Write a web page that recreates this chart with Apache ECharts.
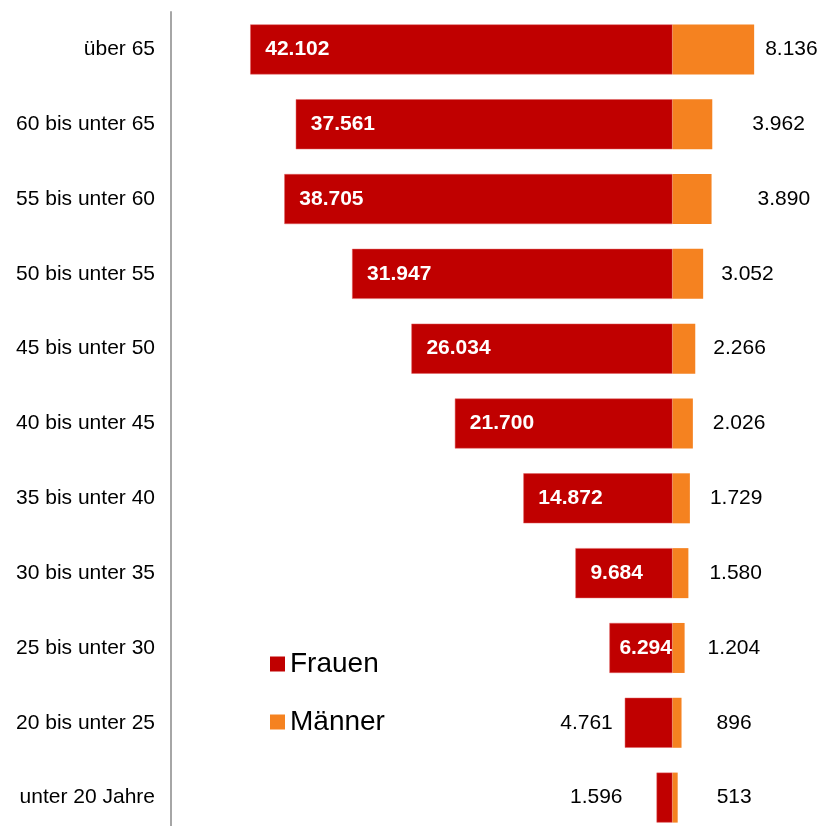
<!DOCTYPE html>
<html>
<head>
<meta charset="utf-8">
<script src="https://cdn.jsdelivr.net/npm/echarts@6/dist/echarts.min.js"></script>
<style>
  html, body { margin: 0; padding: 0; background: #fff; }
  #main { width: 823px; height: 826px; }
</style>
</head>
<body>
<div id="main"></div>
<script>
// Altersgruppen, von oben nach unten
const ageGroups = ['über 65', '60 bis unter 65', '55 bis unter 60', '50 bis unter 55', '45 bis unter 50',
  '40 bis unter 45', '35 bis unter 40', '30 bis unter 35', '25 bis unter 30', '20 bis unter 25', 'unter 20 Jahre']
const frauen = [42102, 37561, 38705, 31947, 26034, 21700, 14872, 9684, 6294, 4761, 1596]
const maenner = [8136, 3962, 3890, 3052, 2266, 2026, 1729, 1580, 1204, 896, 513]

// label spacing
const maennerLabelGap = [11, 40, 46, 18, 18, 20, 20, 21, 23, 35, 39]
const frauenOutsideGap = { 9: 12, 10: 34 }

const fmt = v => Math.abs(v).toLocaleString('de-DE')
const font = 'Liberation Sans, Arial, sans-serif'

let myChart = echarts.init(document.getElementById('main'))

let frauenData = frauen.map((v, i) => {
  let item = { value: -v }
  if (frauenOutsideGap[i] !== undefined) {
    item.label = {
      position: 'left',
      distance: frauenOutsideGap[i],
      color: '#000',
      fontWeight: 'normal'
    }
  } else if (i === 8) {
    // narrow bar, label sits closer to the edge
    item.label = { distance: 10 }
  }
  return item
})

let maennerData = maenner.map((v, i) => ({
  value: v,
  label: { distance: maennerLabelGap[i] }
}))

let option = {
  animation: false,
  textStyle: { fontFamily: font },
  grid: {
    left: 171,
    right: 0,
    top: 12,
    height: 823,
    containLabel: false,
    outerBoundsMode: 'none'
  },
  legend: {
    orient: 'vertical',
    left: 265,
    top: 645,
    icon: 'rect',
    itemWidth: 15,
    itemHeight: 15,
    itemGap: 30,
    itemStyle: { borderWidth: 0 },
    textStyle: { fontSize: 28, color: '#000', fontFamily: font },
    data: ['Frauen', 'Männer']
  },
  xAxis: {
    type: 'value',
    min: -50000,
    max: 15000,
    show: false
  },
  yAxis: {
    type: 'category',
    inverse: true,
    data: ageGroups,
    axisLine: { onZero: false, lineStyle: { color: '#A6A6A6', width: 2 } },
    axisTick: { show: false },
    axisLabel: { fontSize: 21, color: '#000', margin: 16, fontFamily: font }
  },
  series: [
    {
      name: 'Frauen',
      type: 'bar',
      stack: 'total',
      barWidth: 50,
      itemStyle: { color: '#C00000', borderColor: '#E06060', borderWidth: 0.5 },
      label: {
        show: true,
        position: 'insideLeft',
        distance: 15,
        color: '#fff',
        fontWeight: 'bold',
        fontSize: 21,
        fontFamily: font,
        formatter: p => fmt(p.value)
      },
      data: frauenData
    },
    {
      name: 'Männer',
      type: 'bar',
      stack: 'total',
      barWidth: 50,
      itemStyle: { color: '#F58220' },
      label: {
        show: true,
        position: 'right',
        color: '#000',
        fontSize: 21,
        fontFamily: font,
        formatter: p => fmt(p.value)
      },
      data: maennerData
    }
  ]
}
myChart.setOption(option)
</script>
</body>
</html>
